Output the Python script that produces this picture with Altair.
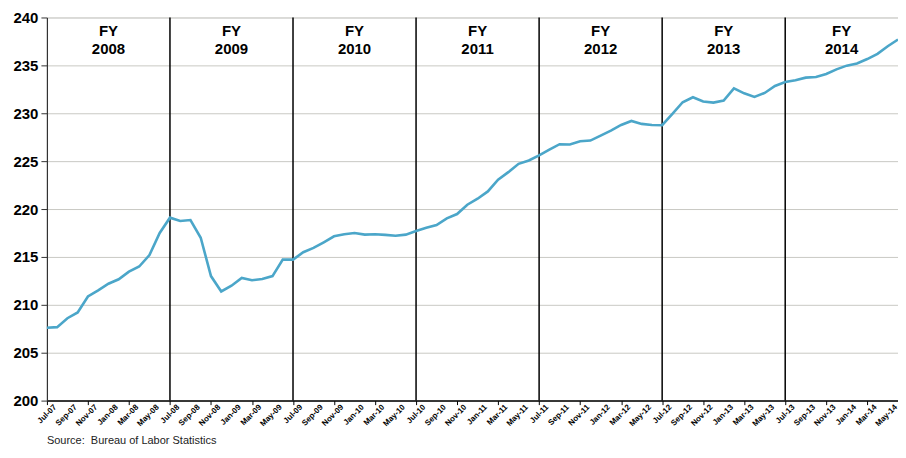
import altair as alt
import pandas as pd

months = [
    "Jul-07", "Aug-07", "Sep-07", "Oct-07", "Nov-07", "Dec-07",
    "Jan-08", "Feb-08", "Mar-08", "Apr-08", "May-08", "Jun-08",
    "Jul-08", "Aug-08", "Sep-08", "Oct-08", "Nov-08", "Dec-08",
    "Jan-09", "Feb-09", "Mar-09", "Apr-09", "May-09", "Jun-09",
    "Jul-09", "Aug-09", "Sep-09", "Oct-09", "Nov-09", "Dec-09",
    "Jan-10", "Feb-10", "Mar-10", "Apr-10", "May-10", "Jun-10",
    "Jul-10", "Aug-10", "Sep-10", "Oct-10", "Nov-10", "Dec-10",
    "Jan-11", "Feb-11", "Mar-11", "Apr-11", "May-11", "Jun-11",
    "Jul-11", "Aug-11", "Sep-11", "Oct-11", "Nov-11", "Dec-11",
    "Jan-12", "Feb-12", "Mar-12", "Apr-12", "May-12", "Jun-12",
    "Jul-12", "Aug-12", "Sep-12", "Oct-12", "Nov-12", "Dec-12",
    "Jan-13", "Feb-13", "Mar-13", "Apr-13", "May-13", "Jun-13",
    "Jul-13", "Aug-13", "Sep-13", "Oct-13", "Nov-13", "Dec-13",
    "Jan-14", "Feb-14", "Mar-14", "Apr-14", "May-14", "Jun-14",
]

cpi = [
    207.60, 207.67, 208.60, 209.20, 210.87, 211.50,
    212.20, 212.67, 213.47, 214.00, 215.20, 217.50,
    219.10, 218.75, 218.85, 217.00, 213.00, 211.40,
    212.00, 212.80, 212.57, 212.70, 213.00, 214.72,
    214.72, 215.49, 215.94, 216.53, 217.15, 217.36,
    217.50, 217.33, 217.36, 217.30, 217.22, 217.33,
    217.70, 218.05, 218.33, 219.03, 219.48, 220.45,
    221.08, 221.84, 223.06, 223.85, 224.72, 225.07,
    225.60, 226.20, 226.77, 226.74, 227.08, 227.15,
    227.67, 228.19, 228.78, 229.20, 228.89, 228.78,
    228.75, 229.93, 231.15, 231.67, 231.22, 231.11,
    231.32, 232.60, 232.08, 231.70, 232.12, 232.85,
    233.26, 233.44, 233.72, 233.78, 234.10, 234.58,
    234.97, 235.20, 235.66, 236.20, 237.00, 237.70,
]

fy_labels = ["FY\n2008", "FY\n2009", "FY\n2010", "FY\n2011", "FY\n2012", "FY\n2013", "FY\n2014"]
fy_start_months = ["Jul-07", "Jul-08", "Jul-09", "Jul-10", "Jul-11", "Jul-12", "Jul-13"]
tick_labels = months[::2]
source_text = "Source:\u00a0 Bureau of Labor Statistics"

FONT = "Liberation Sans"
last = len(months) - 1

df = pd.DataFrame({"idx": list(range(len(months))), "month": months, "cpi": cpi})

starts = [months.index(m) for m in fy_start_months]
fy_df = pd.DataFrame({
    "label": fy_labels,
    "center": [(s + min(s + 12, last)) / 2 for s in starts],
})
rule_df = pd.DataFrame({"start": starts[1:]})
tick_df = pd.DataFrame({
    "idx": [months.index(m) for m in tick_labels],
    "label": tick_labels,
})

x_scale = alt.Scale(domain=[0, last], nice=False, zero=False)
y_scale = alt.Scale(domain=[200, 240], nice=False, zero=False)

x_axis = alt.Axis(
    values=tick_df["idx"].tolist(),
    labels=False,
    tickSize=4,
    tickColor="#000000",
    domainColor="#000000",
    domainWidth=1.5,
    grid=False,
    title=None,
)
y_axis = alt.Axis(
    values=list(range(200, 241, 5)),
    labelFontSize=15,
    labelFontWeight="bold",
    labelFont=FONT,
    labelColor="#000000",
    labelPadding=3,
    tickSize=6,
    tickColor="#333333",
    domainColor="#333333",
    domainWidth=1.2,
    grid=True,
    gridColor="#c9c9c4",
    gridWidth=1,
    title=None,
)

base_line = alt.Chart(df).mark_line(color="#4BA6C9", strokeWidth=2.6).encode(
    x=alt.X("idx:Q", scale=x_scale, axis=x_axis),
    y=alt.Y("cpi:Q", scale=y_scale, axis=y_axis),
)

rules = alt.Chart(rule_df).mark_rule(color="#000000", strokeWidth=1.5).encode(
    x=alt.X("start:Q", scale=x_scale),
)

fy_text = alt.Chart(fy_df).mark_text(
    font=FONT, fontSize=15, fontWeight="bold", color="#000000",
    align="center", baseline="alphabetic", lineBreak="\n", lineHeight=18,
).encode(
    x=alt.X("center:Q", scale=x_scale),
    y=alt.value(19),
    text="label:N",
)

# rotated month labels below the axis
tick_text = alt.Chart(tick_df).mark_text(
    font=FONT, fontSize=8, fontWeight="bold", color="#000000",
    align="right", baseline="top", angle=315, dx=2, dy=6,
).encode(
    x=alt.X("idx:Q", scale=x_scale),
    y=alt.value(384),
    text="label:N",
)

src_df = pd.DataFrame({"label": [source_text], "idx": [0]})
src_text = alt.Chart(src_df).mark_text(
    font=FONT, fontSize=11, fontWeight="normal", color="#222222",
    align="left", baseline="alphabetic",
).encode(
    x=alt.X("idx:Q", scale=x_scale),
    y=alt.value(427),
    text="label:N",
)

chart = alt.layer(rules, base_line, fy_text, tick_text, src_text).properties(
    width=853,
    height=384,
    autosize=alt.AutoSizeParams(type="none"),
    padding={"left": 39, "top": 9, "right": 0, "bottom": 45},
).configure_view(
    fill="#EDE8D4", stroke="#8a8a8a", strokeWidth=1,
).configure(background="#ffffff")

chart.save("out.html", embed_options={"renderer": "svg", "actions": False})
